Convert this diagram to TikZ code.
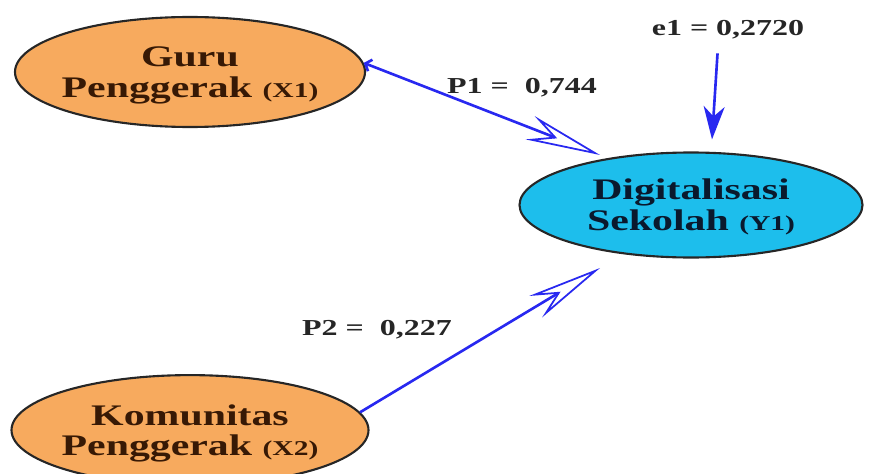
\documentclass[tikz,border=0pt]{standalone}
\usepackage{fontspec}
\newfontfamily\diagfont[FakeStretch=1.4]{Liberation Serif}
\usetikzlibrary{positioning,shapes.geometric,arrows.meta}

\definecolor{exoorange}{RGB}{247,170,94}
\definecolor{endocyan}{RGB}{29,190,236}
\definecolor{pathblue}{RGB}{40,40,240}
\definecolor{textbrown}{RGB}{55,25,5}
\definecolor{textnavy}{RGB}{10,25,45}

\newcommand{\varcode}[1]{{\fontsize{12}{14}\selectfont(#1)}}

\begin{document}
\begin{tikzpicture}[
    node distance=4.92cm,
    thick,
    latent/.style={ellipse, draw=black!85, line width=1.2pt, inner xsep=-2mm, inner ysep=0pt, text depth=0pt, minimum width=7cm, minimum height=2.2cm, align=center, font=\diagfont\bfseries\fontsize{17}{17.5}\selectfont},
    exo/.style={latent, fill=exoorange, text=textbrown},
    endo/.style={latent, fill=endocyan, text=textnavy, minimum width=6.86cm, minimum height=2.1cm},
    coef/.style={font=\diagfont\bfseries\fontsize{13}{15}\selectfont, text=black!85},
    bigtip/.tip={Stealth[length=1.5cm, width=0.5cm, inset=0.5cm, open, line width=1pt]},
    pathline/.style={draw=pathblue, line width=1.5pt}
]
\useasboundingbox (0,0) rectangle (17.44,9.46);

\node[exo] (X1) at (3.8,8.02) {Guru\\Penggerak \varcode{X1}};
\node[exo, below=of X1, minimum width=7.14cm] (X2) {Komunitas\\Penggerak \varcode{X2}};
\node[endo] (Y1) at (13.82,5.36) {Digitalisasi\\Sekolah \varcode{Y1}};

\node[coef] (e1) at (14.56,8.86) {e1 = 0,2720};
\node[coef] (P1) at (10.44,7.7) {P1 = \ 0,744};
\node[coef] (P2) at (7.54,2.86) {P2 = \ 0,227};

% path coefficients
\draw[pathline, {Straight Barb[length=3pt,width=7pt]}-bigtip] (X1.3) -- ([shift={(-1.82,1.0)}]Y1.center);
\draw[pathline, -bigtip] (X2.6) -- ([shift={(-1.82,-1.26)}]Y1.center);
\draw[pathline, -{Stealth[length=0.66cm, width=0.42cm, inset=0.2cm]}, shorten <=0.15cm] ([xshift=-0.2cm]e1.south) -- ([xshift=0.42cm,yshift=0.24cm]Y1.north);

\end{tikzpicture}
\end{document}
